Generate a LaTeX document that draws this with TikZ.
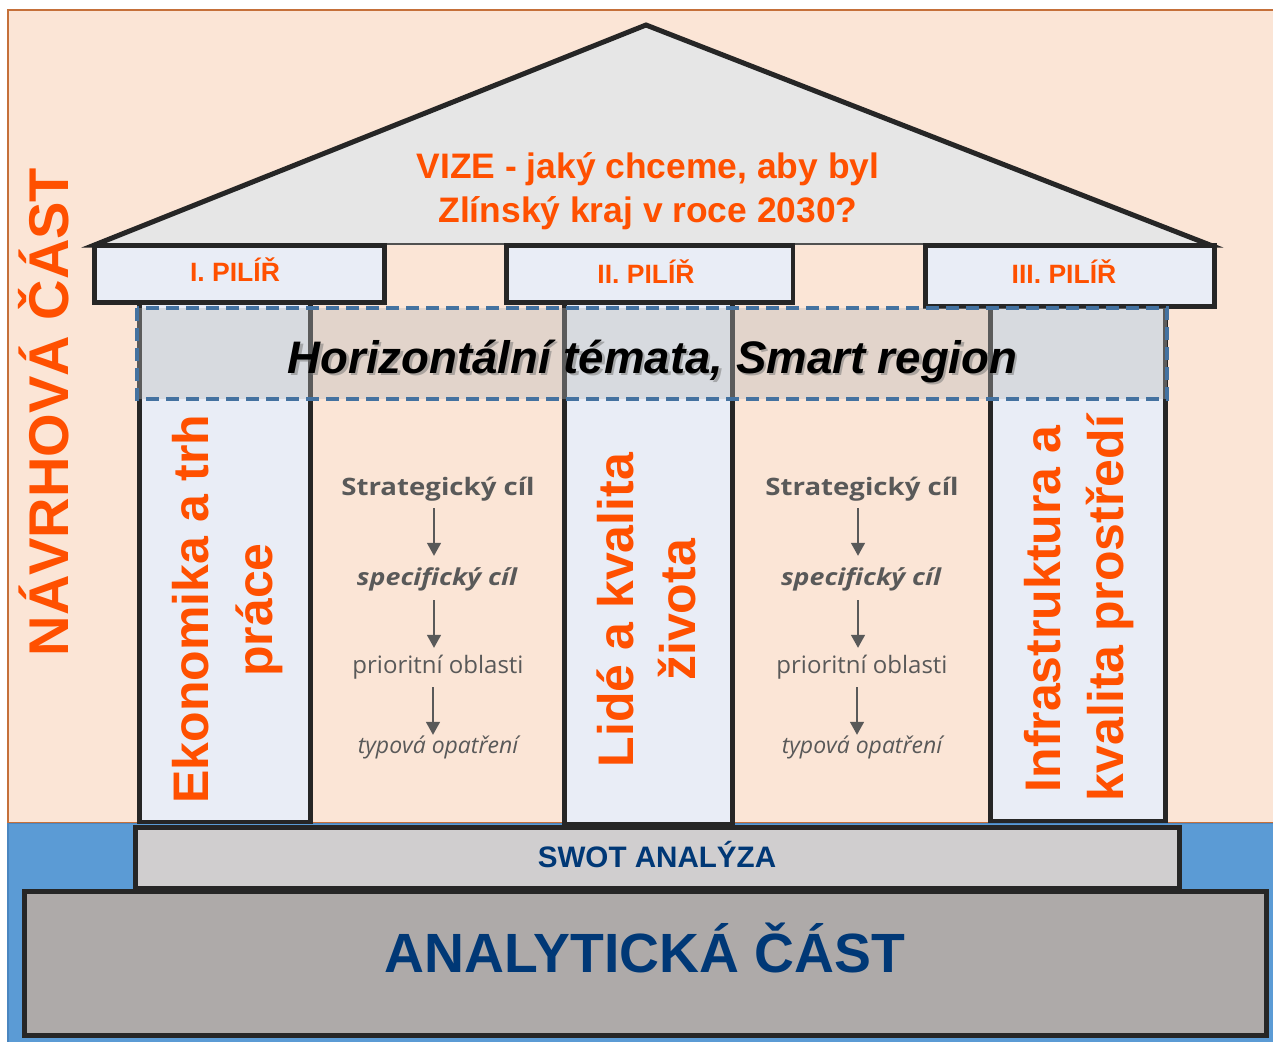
\documentclass[tikz,border=0pt]{standalone}
\usepackage{fontspec}
\setmainfont{Liberation Sans}
\newfontfamily\midbold[FakeStretch=1.15]{Open Sans}
\newfontfamily\midreg{Open Sans}
\usetikzlibrary{arrows.meta}
\definecolor{peach}{HTML}{FBE5D6}
\definecolor{peachborder}{HTML}{C5703A}
\definecolor{basebluefill}{HTML}{5B9BD5}
\definecolor{baseblueborder}{HTML}{4A86C0}
\definecolor{rooffill}{HTML}{E6E6E6}
\definecolor{darkline}{HTML}{262626}
\definecolor{paleblue}{HTML}{E9EDF6}
\definecolor{bandgray}{HTML}{B9B9B9}
\definecolor{dashblue}{HTML}{4472A0}
\definecolor{swotfill}{HTML}{D0CECF}
\definecolor{anafill}{HTML}{AEAAA9}
\definecolor{orng}{HTML}{FF5000}
\definecolor{navy}{HTML}{003876}
\definecolor{midgray}{HTML}{595959}
\tikzset{
  box/.style={draw=darkline, line width=4.5pt, fill=paleblue},
  headlbl/.style={text=orng, font=\bfseries\fontsize{26.5}{30}\selectfont, inner sep=0pt, anchor=base},
  pillarlbl/.style={text=orng, font=\bfseries\fontsize{50}{60}\selectfont, inner sep=0pt, anchor=base, rotate=90},
  midtxt/.style={text=midgray, inner sep=0pt, anchor=base, text height=18pt, text depth=6pt},
  stratlbl/.style={midtxt, font=\midbold\bfseries\fontsize{24}{28}\selectfont},
  speclbl/.style={midtxt, font=\midbold\bfseries\itshape\fontsize{23.3}{28}\selectfont},
  priolbl/.style={midtxt, font=\midreg\fontsize{24}{28}\selectfont},
  typlbl/.style={midtxt, font=\midreg\itshape\fontsize{23}{28}\selectfont},
  flow/.style={draw=midgray, line width=1.5pt, -{Triangle[length=13pt,width=14pt]}},
}
\begin{document}
\begin{tikzpicture}[x=1pt,y=-1pt]
\useasboundingbox (0,0) rectangle (1273,1041);
\fill[white] (0,0) rectangle (1273,1041);
% backgrounds
\filldraw[fill=peach, draw=peachborder, line width=1.5pt] (8,10) rectangle (1285,823);
\filldraw[fill=basebluefill, draw=baseblueborder, line width=1.5pt] (8,823.5) rectangle (1285,1050);
% roof
\fill[rooffill] (92,245) -- (646,25) -- (1212,245) -- cycle;
\draw[darkline!80, line width=1.5pt] (92,244) -- (1212,244);
\draw[darkline, line width=5pt, line join=miter, miter limit=20] (100,245) -- (94.5,245) -- (646,25) -- (1210,245) -- (1205,245);
% columns
\draw[box] (139.5,300) rectangle (310.5,822);
\draw[box] (564.5,300) rectangle (732.5,824);
\draw[box] (990.5,300) rectangle (1165.5,821);
% headers
\draw[box] (94.5,245.5) rectangle (384.5,302.5);
\draw[box] (506.5,245.5) rectangle (793,302.5);
\draw[box] (925.5,245.5) rectangle (1214.5,306.5);
% horizontal band
\fill[bandgray, opacity=.364] (137,308) rectangle (1167,399);
\draw[dashblue, line width=4pt, dash pattern=on 13pt off 7pt] (137,308) rectangle (1167,399);
% base
\draw[draw=darkline, line width=4.5pt, fill=swotfill] (135.5,827.5) rectangle (1179.5,888);
\draw[draw=darkline, line width=4.5pt, fill=anafill] (24.5,891.5) rectangle (1266.5,1035.5);
% texts
\node[text=orng, font=\bfseries\fontsize{56}{60}\selectfont, inner sep=0pt, anchor=base, rotate=90] (navrh) at (68,412) {NÁVRHOVÁ ČÁST};
\node[text=orng, font=\bfseries\fontsize{35.4}{40}\selectfont, inner sep=0pt, anchor=base] (vize1) at (648,178) {VIZE - jaký chceme, aby byl};
\node[text=orng, font=\bfseries\fontsize{35.4}{40}\selectfont, inner sep=0pt, anchor=base] (vize2) at (648,222) {Zlínský kraj v roce 2030?};
\node[headlbl] (p1) at (235,281) {I. PILÍŘ};
\node[headlbl] (p2) at (646,283) {II. PILÍŘ};
\node[headlbl] (p3) at (1064,283) {III. PILÍŘ};
\node[text=black!55, opacity=.5, font=\bfseries\itshape\fontsize{45.6}{50}\selectfont, inner sep=0pt, anchor=base] (horizsh) at (655,375.5) {Horizontální témata, Smart region};
\node[text=black, font=\bfseries\itshape\fontsize{45.6}{50}\selectfont, inner sep=0pt, anchor=base] (horiz) at (652.5,373) {Horizontální témata, Smart region};
\node[pillarlbl] (c1a) at (208,609) {Ekonomika a trh};
\node[pillarlbl] (c1b) at (272,610) {práce};
\node[pillarlbl] (c2a) at (633,610) {Lidé a kvalita};
\node[pillarlbl] (c2b) at (695,610) {života};
\node[pillarlbl] (c3a) at (1060,609) {Infrastruktura a};
\node[pillarlbl] (c3b) at (1123,608) {kvalita prostředí};
% left flow
\node[stratlbl] (ls1) at (438,495) {Strategický cíl};
\node[speclbl] (ls2) at (437,585) {specifický cíl};
\node[priolbl] (ls3) at (438,673) {prioritní oblasti};
\node[typlbl] (ls4) at (438,753) {typová opatření};
\draw[flow, shorten <=7pt, shorten >=11pt] ([xshift=-4pt]ls1.south) -- ([xshift=-3pt]ls2.north);
\draw[flow, shorten <=9pt, shorten >=7pt] ([xshift=-3pt]ls2.south) -- ([xshift=-4pt]ls3.north);
\draw[flow, shorten <=8pt, shorten >=0pt] ([xshift=-5pt]ls3.south) -- ([xshift=-5pt]ls4.north);
% right flow
\node[stratlbl] (rs1) at (862,495) {Strategický cíl};
\node[speclbl] (rs2) at (861,585) {specifický cíl};
\node[priolbl] (rs3) at (862,673) {prioritní oblasti};
\node[typlbl] (rs4) at (862,753) {typová opatření};
\draw[flow, shorten <=7pt, shorten >=11pt] ([xshift=-4pt]rs1.south) -- ([xshift=-3pt]rs2.north);
\draw[flow, shorten <=9pt, shorten >=7pt] ([xshift=-3pt]rs2.south) -- ([xshift=-4pt]rs3.north);
\draw[flow, shorten <=8pt, shorten >=0pt] ([xshift=-5pt]rs3.south) -- ([xshift=-5pt]rs4.north);
% base texts
\node[text=navy, font=\bfseries\fontsize{29.6}{32}\selectfont, inner sep=0pt, anchor=base] (swot) at (657,867) {SWOT ANALÝZA};
\node[text=navy, font=\bfseries\fontsize{55.3}{60}\selectfont, inner sep=0pt, anchor=base] (ana) at (645,972) {ANALYTICKÁ ČÁST};
\end{tikzpicture}
\end{document}
